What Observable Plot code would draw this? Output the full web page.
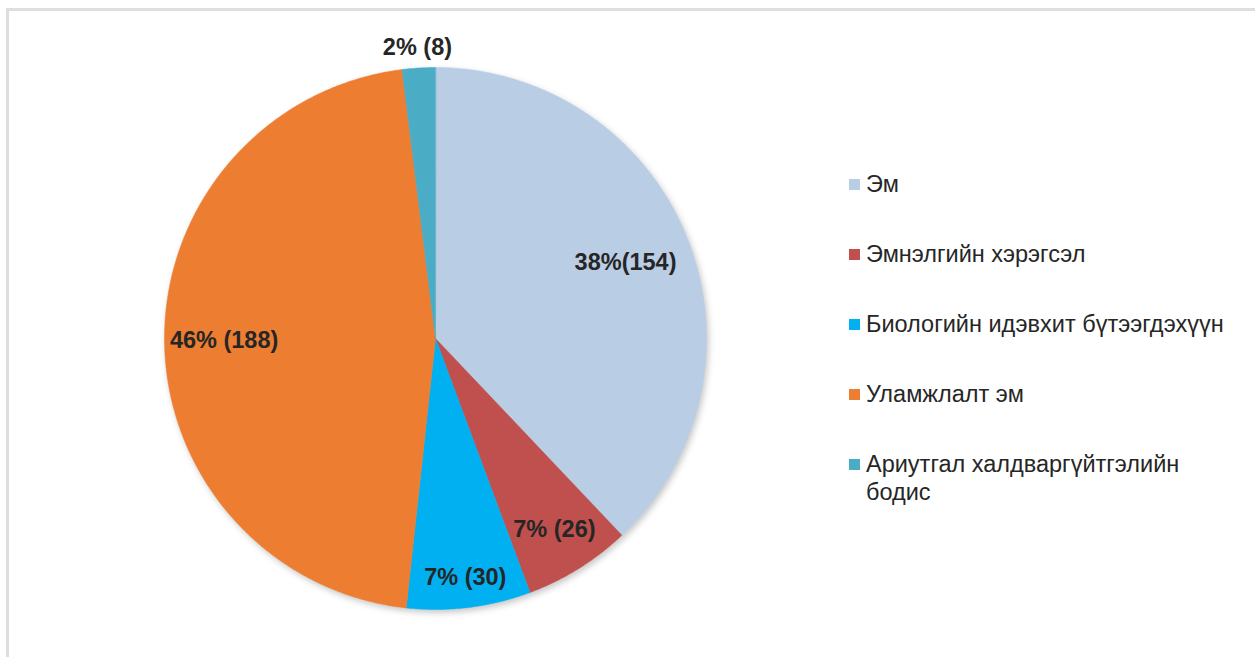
<!DOCTYPE html>
<html>
<head>
<meta charset="utf-8">
<script src="https://cdn.jsdelivr.net/npm/d3@7"></script>
<script src="https://cdn.jsdelivr.net/npm/@observablehq/plot@0.6"></script>
<style>
  html, body { margin: 0; padding: 0; background: #fff; }
  body { width: 1255px; height: 657px; position: relative; overflow: hidden; font-family: "Liberation Sans", Arial, sans-serif; }
  #frame { position: absolute; left: 6px; top: 8px; width: 1400px; height: 800px; border-top: 3px solid #dedede; border-left: 3px solid #dedede; }
  #chart { position: absolute; left: 0; top: 0; }
  .leg { position: absolute; left: 849px; width: 400px; display: flex; align-items: flex-start; color: #262626; font-size: 23.5px; line-height: 28px; }
  .sw { width: 11px; height: 11px; flex: none; margin-top: 9px; margin-right: 6px; }
</style>
</head>
<body>
<div id="frame"></div>
<div id="chart"></div>
<div id="legend"></div>
<script>
// ---- data ----
const categories = ["Эм", "Эмнэлгийн хэрэгсэл", "Биологийн идэвхит бүтээгдэхүүн", "Уламжлалт эм", "Ариутгал халдваргүйтгэлийн бодис"];
const counts = [154, 26, 30, 188, 8];
const percentLabels = ["38%(154)", "7% (26)", "7% (30)", "46% (188)", "2% (8)"];
const colors = ["#B9CDE5", "#C0504D", "#00B0F0", "#ED7D31", "#4BACC6"];

// ---- layout ----
const W = 1255, H = 657;
const cx = 435, cy = 338, R = 271;
const labelRadius = [0.755, 0.83, 0.89, 0.78, 1.075];
const legendTops = [170, 240, 310, 380, 450];

const arcs = d3.pie().sort(null).value(d => d)(counts);
const toXY = (a, r) => [cx + r * Math.sin(a), cy - r * Math.cos(a)];

const features = arcs.map((a, i) => {
  const pts = [[cx, cy]];
  const n = Math.max(8, Math.ceil((a.endAngle - a.startAngle) / (Math.PI / 360)));
  for (let k = 0; k <= n; k++) {
    const t = a.startAngle + (a.endAngle - a.startAngle) * k / n;
    pts.push(toXY(t, R));
  }
  pts.push([cx, cy]);
  return {type: "Feature", properties: {name: categories[i]}, geometry: {type: "Polygon", coordinates: [pts]}};
});

const labels = arcs.map((a, i) => {
  const mid = (a.startAngle + a.endAngle) / 2;
  const [x, y] = toXY(mid, R * labelRadius[i]);
  return {x, y, text: percentLabels[i]};
});

const chart = Plot.plot({
  width: W,
  height: H,
  margin: 0,
  projection: {type: "identity"},
  color: {domain: categories, range: colors},
  marks: [
    Plot.geo(features, {fill: d => d.properties.name, stroke: d => d.properties.name, strokeWidth: 0.5}),
    Plot.text(labels, {x: "x", y: "y", text: "text", fontSize: 23.5, fontWeight: "bold", fill: "#262626", fontFamily: "Liberation Sans, Arial, sans-serif"})
  ]
});
d3.select(chart).select('g[aria-label="geo"]').style("filter", "drop-shadow(2px 3px 3px rgba(0,0,0,0.22))");
document.getElementById("chart").appendChild(chart);

const legend = document.getElementById("legend");
categories.forEach((c, i) => {
  const row = document.createElement("div");
  row.className = "leg";
  row.style.top = legendTops[i] + "px";
  row.innerHTML = `<span class="sw" style="background:${colors[i]}"></span><span style="width:370px">${c}</span>`;
  legend.appendChild(row);
});
</script>
</body>
</html>
